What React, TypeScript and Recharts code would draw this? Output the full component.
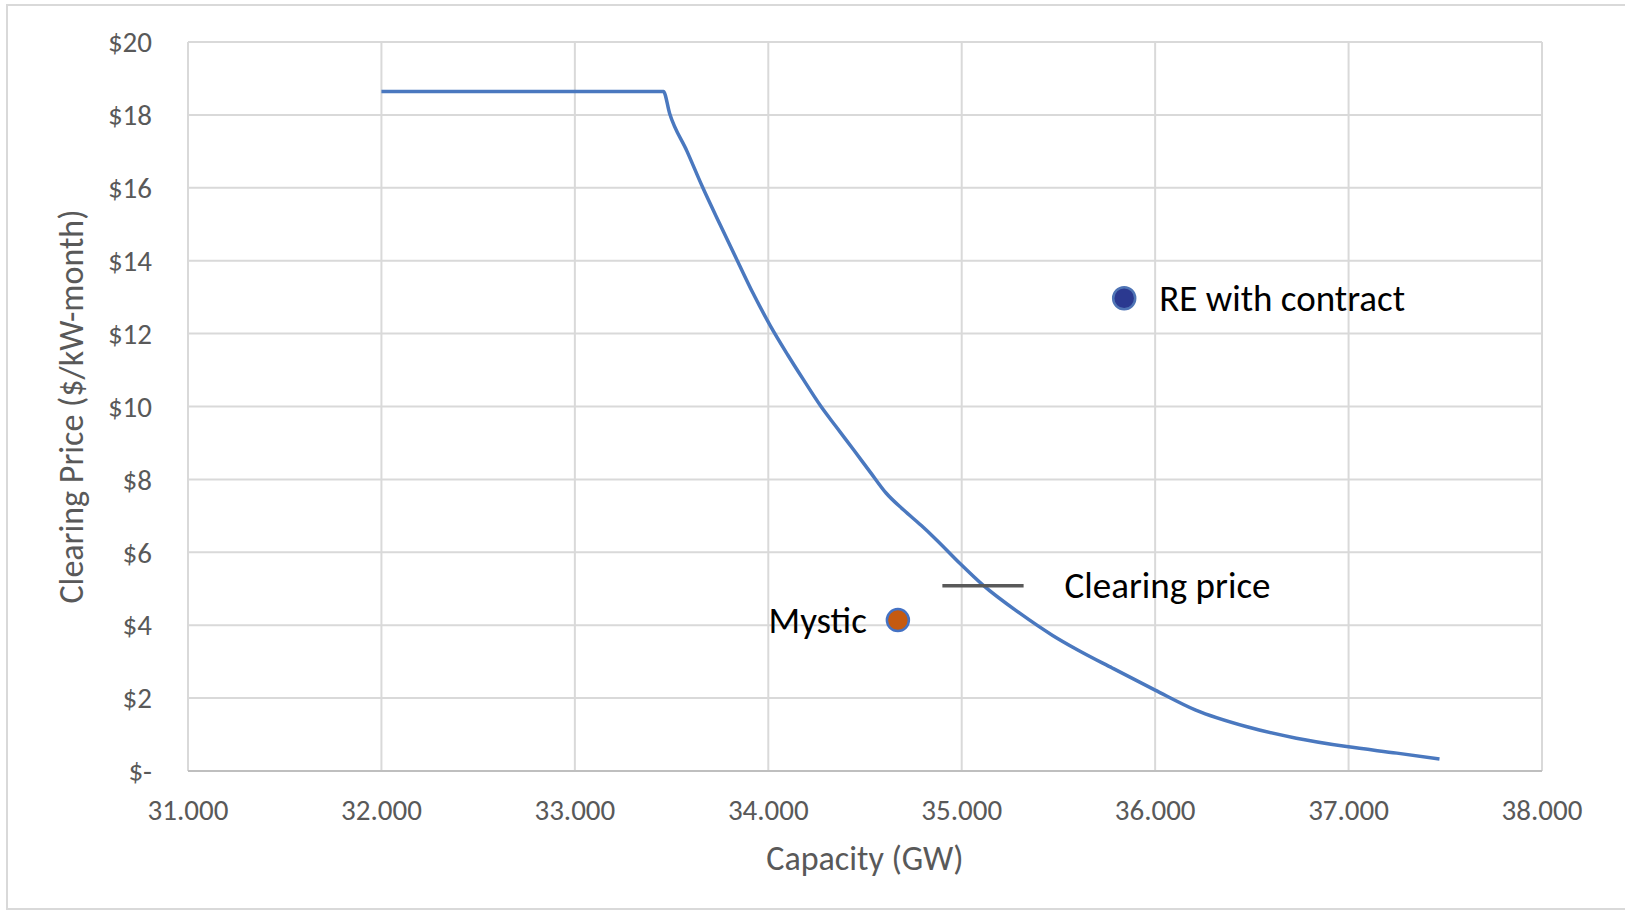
import React from 'react';
import { ComposedChart, Line, Scatter, XAxis, YAxis, CartesianGrid } from 'recharts';

const capacity = [32.0, 33.458, 33.49, 33.58, 33.66, 33.75, 33.84, 33.92, 34.01, 34.10, 34.18, 34.27, 34.35, 34.44, 34.53, 34.61, 34.70, 34.79, 34.87, 34.99, 35.11, 35.30, 35.47, 35.60, 35.78, 36.0, 36.21, 36.47, 36.73, 36.99, 37.25, 37.47];
const price = [18.64, 18.64, 18.04, 17.0, 16.02, 15.0, 14.0, 13.12, 12.22, 11.42, 10.75, 10.02, 9.45, 8.82, 8.18, 7.62, 7.16, 6.74, 6.34, 5.70, 5.10, 4.33, 3.72, 3.32, 2.82, 2.22, 1.67, 1.22, 0.90, 0.67, 0.49, 0.33];

const clearingCapacity = [34.9, 35.32];
const clearingPrice = [5.08, 5.08];
const clearingLabel = 'Clearing price';

const mysticPoint = { name: 'Mystic', x: 34.67, y: 4.14 };
const rePoint = { name: 'RE with contract', x: 35.84, y: 12.97 };

const xTicks = [31, 32, 33, 34, 35, 36, 37, 38];
const yTicks = [0, 2, 4, 6, 8, 10, 12, 14, 16, 18, 20];

const xTitle = 'Capacity (GW)';
const yTitle = 'Clearing Price ($/kW-month)';

const curveData = capacity.map((c, i) => ({ x: c, y: price[i] }));
const clearingData = clearingCapacity.map((c, i) => ({ x: c, y: clearingPrice[i] }));

const FONT = 'Calibri, Carlito, Lato, sans-serif';
const GRAY = '#595959';
const LABEL_SIZE = 37;
const TICK_SIZE = 29;
const TITLE_SIZE = 34;

const MysticShape = (props: any) => (
  <g>
    <circle cx={props.cx} cy={props.cy} r={11} fill="#C55A11" stroke="#4472C4" strokeWidth={2.5} />
    <text x={props.cx - 31} y={props.cy} textAnchor="end" dominantBaseline="central" fontFamily={FONT} fontSize={LABEL_SIZE} fill="#000">
      {mysticPoint.name}
    </text>
  </g>
);

const REShape = (props: any) => (
  <g>
    <circle cx={props.cx} cy={props.cy} r={11} fill="#2B3990" stroke="#4F74B5" strokeWidth={2.5} />
    <text x={props.cx + 35} y={props.cy} textAnchor="start" dominantBaseline="central" fontFamily={FONT} fontSize={LABEL_SIZE} fill="#000">
      {rePoint.name}
    </text>
  </g>
);

export default function App() {
  return (
    <div style={{ position: 'absolute', left: 0, top: 0, width: 1625, height: 916, overflow: 'hidden', background: '#fff' }}>
      <div style={{ position: 'absolute', left: 6, top: 4, width: 1660, height: 906, border: '2px solid #D9D9D9', boxSizing: 'border-box' }} />
      <div style={{ position: 'absolute', left: 0, top: 0 }}>
        <ComposedChart width={1625} height={916} margin={{ top: 42, right: 83, bottom: 0, left: 0 }}>
          <CartesianGrid stroke="#D9D9D9" strokeWidth={2} />
          <XAxis
            type="number"
            dataKey="x"
            domain={[31, 38]}
            ticks={xTicks}
            allowDataOverflow
            height={145}
            tickSize={0}
            tickMargin={28}
            tickLine={false}
            axisLine={{ stroke: '#BFBFBF', strokeWidth: 2 }}
            tickFormatter={(v: number) => v.toFixed(3)}
            tick={{ fill: GRAY, fontSize: TICK_SIZE, fontFamily: FONT }}
            label={{
              content: (p: any) => (
                <text x={p.viewBox.x + p.viewBox.width / 2} y={p.viewBox.y + 87} textAnchor="middle" dominantBaseline="central" fontFamily={FONT} fontSize={TITLE_SIZE} fill={GRAY}>
                  {xTitle}
                </text>
              ),
            }}
          />
          <YAxis
            type="number"
            domain={[0, 20]}
            ticks={yTicks}
            allowDataOverflow
            width={188}
            tickSize={0}
            tickMargin={36}
            tickLine={false}
            axisLine={false}
            tickFormatter={(v: number) => (v === 0 ? '$-' : '$' + v)}
            tick={{ fill: GRAY, fontSize: TICK_SIZE, fontFamily: FONT }}
            label={{
              content: (p: any) => {
                const cx = p.viewBox.x + 71;
                const cy = p.viewBox.y + p.viewBox.height / 2;
                return (
                  <text x={cx} y={cy} transform={`rotate(-90 ${cx} ${cy})`} textAnchor="middle" dominantBaseline="central" fontFamily={FONT} fontSize={TITLE_SIZE} fill={GRAY}>
                    {yTitle}
                  </text>
                );
              },
            }}
          />
          <Line data={curveData} dataKey="y" type="monotone" stroke="#4A78BF" strokeWidth={3.5} dot={false} activeDot={false} isAnimationActive={false} />
          <Line
            data={clearingData}
            dataKey="y"
            type="linear"
            stroke={GRAY}
            strokeWidth={3.5}
            dot={false}
            activeDot={false}
            isAnimationActive={false}
            label={(p: any) =>
              p.index === 1 ? (
                <text key="cl" x={p.x + 41} y={p.y} textAnchor="start" dominantBaseline="central" fontFamily={FONT} fontSize={LABEL_SIZE} fill="#000">
                  {clearingLabel}
                </text>
              ) : (
                <g key={'e' + p.index} />
              )
            }
          />
          <Scatter data={[mysticPoint]} dataKey="y" shape={MysticShape} isAnimationActive={false} />
          <Scatter data={[rePoint]} dataKey="y" shape={REShape} isAnimationActive={false} />
        </ComposedChart>
      </div>
    </div>
  );
}
